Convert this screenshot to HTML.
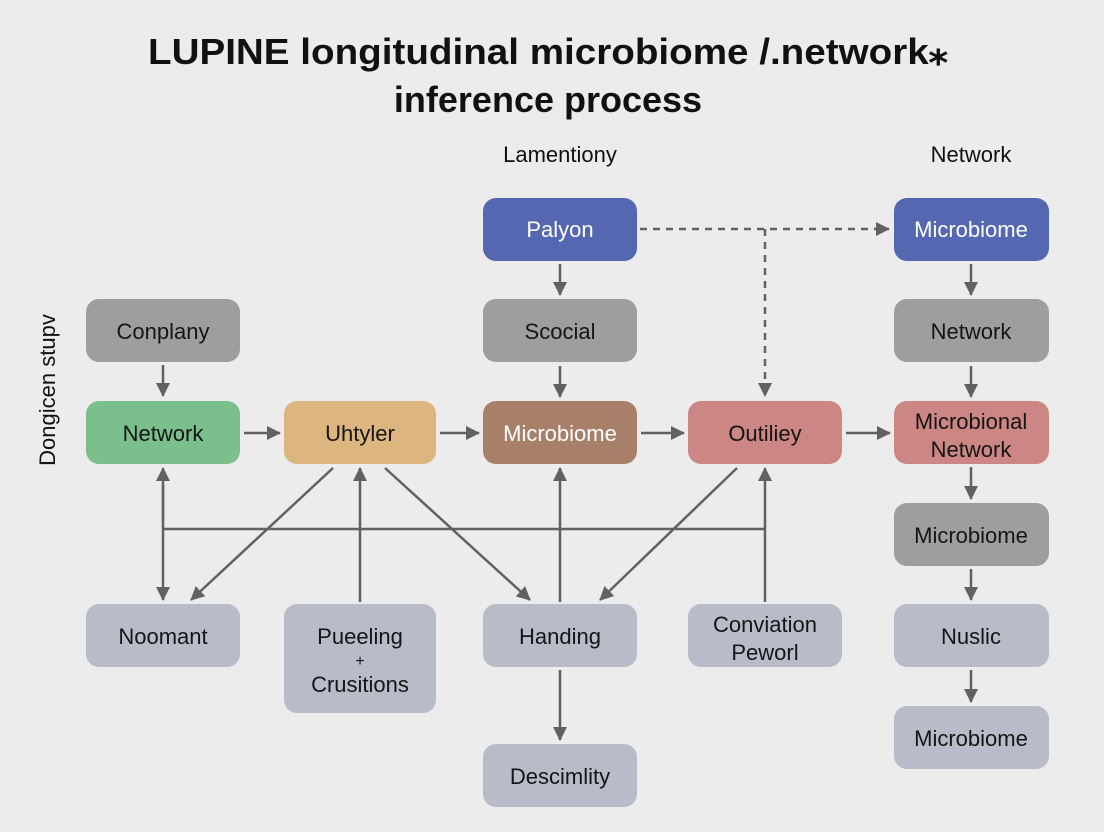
<!DOCTYPE html>
<html><head><style>
body{margin:0;background:#ececec;}
svg{display:block;font-family:"Liberation Sans",sans-serif;}
</style></head><body>
<svg width="1104" height="832" viewBox="0 0 1104 832">
<defs>
<marker id="b" markerWidth="14" markerHeight="14" refX="13" refY="7" orient="auto" markerUnits="userSpaceOnUse"><path d="M0,0L14,7L0,14z" fill="#616161"/></marker></defs>
<rect width="1104" height="832" fill="#ececec"/>
<text x="548" y="64" font-size="36" font-weight="bold" text-anchor="middle" fill="#111" textLength="800" lengthAdjust="spacingAndGlyphs">LUPINE longitudinal microbiome /.network⁎</text>
<text x="548" y="112" font-size="36" font-weight="bold" text-anchor="middle" fill="#111">inference process</text>
<text x="560" y="162" font-size="22" text-anchor="middle" fill="#111">Lamentiony</text>
<text x="971" y="162" font-size="22" text-anchor="middle" fill="#111">Network</text>
<text transform="translate(55,390) rotate(-90)" font-size="22" text-anchor="middle" fill="#111">Dongicen stupv</text>
<g stroke="#616161" stroke-width="2.5" fill="none">
<line x1="163" y1="365" x2="163" y2="396" marker-end="url(#b)"/>
<line x1="244" y1="433" x2="280" y2="433" marker-end="url(#b)"/>
<line x1="440" y1="433" x2="479" y2="433" marker-end="url(#b)"/>
<line x1="641" y1="433" x2="684" y2="433" marker-end="url(#b)"/>
<line x1="846" y1="433" x2="890" y2="433" marker-end="url(#b)"/>
<line x1="560" y1="264" x2="560" y2="295" marker-end="url(#b)"/>
<line x1="560" y1="366" x2="560" y2="397" marker-end="url(#b)"/>
<line x1="640" y1="229" x2="889" y2="229" stroke-dasharray="7,6" marker-end="url(#b)"/>
<line x1="765" y1="229" x2="765" y2="396" stroke-dasharray="7,6" marker-end="url(#b)"/>
<line x1="971" y1="264" x2="971" y2="295" marker-end="url(#b)"/>
<line x1="971" y1="366" x2="971" y2="397" marker-end="url(#b)"/>
<line x1="971" y1="467" x2="971" y2="499" marker-end="url(#b)"/>
<line x1="971" y1="569" x2="971" y2="600" marker-end="url(#b)"/>
<line x1="971" y1="670" x2="971" y2="702" marker-end="url(#b)"/>
<line x1="163" y1="529" x2="765" y2="529"/>
<line x1="163" y1="485" x2="163" y2="600" marker-end="url(#b)"/>
<line x1="163" y1="520" x2="163" y2="468" marker-end="url(#b)"/>
<line x1="333" y1="468" x2="191" y2="600" marker-end="url(#b)"/>
<line x1="360" y1="602" x2="360" y2="468" marker-end="url(#b)"/>
<line x1="385" y1="468" x2="530" y2="600" marker-end="url(#b)"/>
<line x1="560" y1="602" x2="560" y2="468" marker-end="url(#b)"/>
<line x1="737" y1="468" x2="600" y2="600" marker-end="url(#b)"/>
<line x1="765" y1="602" x2="765" y2="468" marker-end="url(#b)"/>
<line x1="560" y1="670" x2="560" y2="740" marker-end="url(#b)"/>
</g>
<g font-size="22" text-anchor="middle">
<rect x="86" y="299" width="154" height="63" rx="13" fill="#9e9e9e"/><text x="163" y="339" fill="#151515">Conplany</text>
<rect x="86" y="401" width="154" height="63" rx="13" fill="#7bbf8c"/><text x="163" y="441" fill="#151515">Network</text>
<rect x="86" y="604" width="154" height="63" rx="13" fill="#b8bcc8"/><text x="163" y="644" fill="#151515">Noomant</text>
<rect x="284" y="401" width="152" height="63" rx="13" fill="#ddb57f"/><text x="360" y="441" fill="#151515">Uhtyler</text>
<rect x="284" y="604" width="152" height="109" rx="13" fill="#b8bcc8"/><text x="360" y="644" fill="#151515">Pueeling</text><text x="360" y="666" font-size="16" fill="#151515">+</text><text x="360" y="692" fill="#151515">Crusitions</text>
<rect x="483" y="198" width="154" height="63" rx="13" fill="#5467b0"/><text x="560" y="237" fill="#fff">Palyon</text>
<rect x="483" y="299" width="154" height="63" rx="13" fill="#9e9e9e"/><text x="560" y="339" fill="#151515">Scocial</text>
<rect x="483" y="401" width="154" height="63" rx="13" fill="#a8806a"/><text x="560" y="441" fill="#fff">Microbiome</text>
<rect x="483" y="604" width="154" height="63" rx="13" fill="#b8bcc8"/><text x="560" y="644" fill="#151515">Handing</text>
<rect x="483" y="744" width="154" height="63" rx="13" fill="#b8bcc8"/><text x="560" y="784" fill="#151515">Descimlity</text>
<rect x="688" y="401" width="154" height="63" rx="13" fill="#cc8684"/><text x="765" y="441" fill="#151515">Outiliey</text>
<rect x="688" y="604" width="154" height="63" rx="13" fill="#b8bcc8"/><text x="765" y="632" fill="#151515">Conviation</text><text x="765" y="660" fill="#151515">Peworl</text>
<rect x="894" y="198" width="155" height="63" rx="13" fill="#5467b0"/><text x="971" y="237" fill="#fff">Microbiome</text>
<rect x="894" y="299" width="155" height="63" rx="13" fill="#9e9e9e"/><text x="971" y="339" fill="#151515">Network</text>
<rect x="894" y="401" width="155" height="63" rx="13" fill="#cc8684"/><text x="971" y="429" fill="#151515">Microbional</text><text x="971" y="457" fill="#151515">Network</text>
<rect x="894" y="503" width="155" height="63" rx="13" fill="#9e9e9e"/><text x="971" y="543" fill="#151515">Microbiome</text>
<rect x="894" y="604" width="155" height="63" rx="13" fill="#b8bcc8"/><text x="971" y="644" fill="#151515">Nuslic</text>
<rect x="894" y="706" width="155" height="63" rx="13" fill="#b8bcc8"/><text x="971" y="746" fill="#151515">Microbiome</text>
</g>
</svg>
</body></html>
